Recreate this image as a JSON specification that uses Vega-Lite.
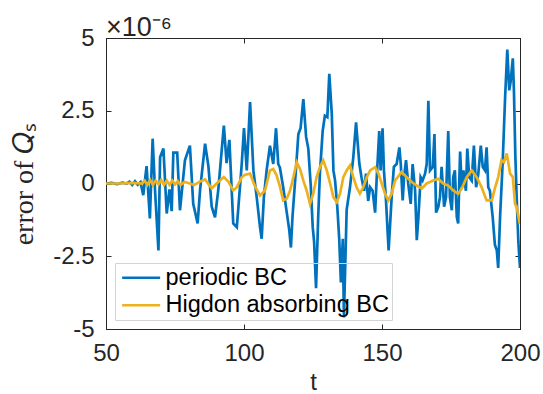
{
  "$schema": "https://vega.github.io/schema/vega-lite/v6.json",
  "width": 414,
  "height": 291,
  "autosize": {"type": "none"},
  "padding": {"left": 106, "top": 38, "right": 23, "bottom": 65},
  "background": "white",
  "title": {"text": "×10⁻⁶", "anchor": "start", "frame": "group", "fontSize": 27, "font": "Liberation Sans", "fontWeight": "normal", "color": "#262626", "offset": 0, "dy": 16, "dx": 0},
  "datasets": {
    "p": [
      {"t": 50, "v": 0}, {"t": 52, "v": 0.02}, {"t": 54, "v": -0.02}, {"t": 56, "v": 0.03}, {"t": 57.5, "v": 0.0}, {"t": 58.5, "v": 0.06}, {"t": 59.5, "v": -0.05}, {"t": 60.5, "v": 0.08}, {"t": 61.5, "v": -0.04}, {"t": 62.5, "v": 0.05},
      {"t": 63.5, "v": -0.4}, {"t": 64.7, "v": 0.6}, {"t": 65.9, "v": -1.2}, {"t": 66.9, "v": 1.54}, {"t": 67.8, "v": -0.3}, {"t": 69.0, "v": -2.3}, {"t": 69.6, "v": 0.9}, {"t": 70.8, "v": 1.2}, {"t": 72.0, "v": -1.03}, {"t": 73.0, "v": -0.2},
      {"t": 73.8, "v": -0.95}, {"t": 74.4, "v": 1.06}, {"t": 75.8, "v": 1.06}, {"t": 76.8, "v": -0.92}, {"t": 78.6, "v": 0.8}, {"t": 80.4, "v": 1.3}, {"t": 81.6, "v": -0.7}, {"t": 83.2, "v": -1.37}, {"t": 84.1, "v": -0.2}, {"t": 85.9, "v": 1.37},
      {"t": 87.1, "v": 0.6}, {"t": 88.3, "v": -0.8}, {"t": 89.5, "v": -1.16}, {"t": 90.7, "v": -0.2}, {"t": 92.7, "v": 1.99}, {"t": 93.7, "v": 0.7}, {"t": 94.7, "v": 1.5}, {"t": 96.1, "v": -1.37}, {"t": 97.4, "v": -1.5}, {"t": 97.9, "v": -0.9},
      {"t": 99.2, "v": 0.7}, {"t": 100.0, "v": 1.9}, {"t": 101.0, "v": 0.45}, {"t": 102.2, "v": 2.8}, {"t": 103.4, "v": 0.45}, {"t": 104.6, "v": -0.47}, {"t": 105.8, "v": -1.5}, {"t": 106.4, "v": -1.9}, {"t": 107.2, "v": -0.47}, {"t": 108.2, "v": 0.45},
      {"t": 109.4, "v": 1.3}, {"t": 110.6, "v": 0.67}, {"t": 111.6, "v": 1.9}, {"t": 112.4, "v": 0.67}, {"t": 113.0, "v": 0.55}, {"t": 114.2, "v": -0.13}, {"t": 115.5, "v": -1.0}, {"t": 116.4, "v": -1.6}, {"t": 117.0, "v": -2.2}, {"t": 117.6, "v": -1.1},
      {"t": 118.8, "v": 0.45}, {"t": 119.7, "v": 1.7}, {"t": 120.5, "v": 1.9}, {"t": 121.5, "v": 2.9}, {"t": 122.5, "v": 1.6}, {"t": 123.3, "v": 1.2}, {"t": 124.2, "v": -0.1}, {"t": 124.9, "v": -1.5}, {"t": 125.4, "v": -2.0}, {"t": 126.1, "v": -3.6},
      {"t": 126.9, "v": -1.1}, {"t": 127.5, "v": 0.34}, {"t": 128.5, "v": 1.8}, {"t": 129.3, "v": 2.33}, {"t": 130.2, "v": 2.28}, {"t": 130.9, "v": 3.77}, {"t": 131.8, "v": 2.4}, {"t": 132.4, "v": 0.45}, {"t": 133.0, "v": 0.1}, {"t": 133.8, "v": -0.8},
      {"t": 134.5, "v": -1.9}, {"t": 135.1, "v": -3.4}, {"t": 135.8, "v": -1.9}, {"t": 136.2, "v": -4.6}, {"t": 137.2, "v": -0.9}, {"t": 138.4, "v": -0.13}, {"t": 139.6, "v": 0.9}, {"t": 140.6, "v": 2.1}, {"t": 141.1, "v": 1.5}, {"t": 141.8, "v": 0.67},
      {"t": 142.6, "v": 0.2}, {"t": 143.5, "v": -0.25}, {"t": 144.2, "v": 0.34}, {"t": 145.0, "v": -0.6}, {"t": 145.7, "v": -0.13}, {"t": 146.6, "v": -0.25}, {"t": 147.5, "v": -1.0}, {"t": 148.1, "v": 0.22}, {"t": 149.0, "v": 1.8}, {"t": 149.5, "v": 0.45},
      {"t": 150.2, "v": 1.9}, {"t": 150.7, "v": 0.45}, {"t": 151.4, "v": -0.5}, {"t": 152.4, "v": -2.3}, {"t": 153.5, "v": -0.47}, {"t": 154.3, "v": 0.57}, {"t": 155.3, "v": 0.67}, {"t": 156.3, "v": 1.24}, {"t": 156.8, "v": 0.67}, {"t": 157.5, "v": -0.58},
      {"t": 158.0, "v": 0.22}, {"t": 158.7, "v": 0.8}, {"t": 159.5, "v": 0.0}, {"t": 160.4, "v": -0.7}, {"t": 161.1, "v": 0.67}, {"t": 162.0, "v": -0.25}, {"t": 162.6, "v": -1.95}, {"t": 163.2, "v": -1.15}, {"t": 164.0, "v": 0.22}, {"t": 164.7, "v": 0.1},
      {"t": 165.6, "v": 0.34}, {"t": 166.2, "v": 0.67}, {"t": 166.8, "v": 2.84}, {"t": 167.4, "v": 0.45}, {"t": 168.4, "v": 0.57}, {"t": 169.0, "v": 1.7}, {"t": 169.6, "v": -1.0}, {"t": 170.4, "v": -0.8}, {"t": 171.0, "v": -0.47}, {"t": 171.6, "v": 0.57},
      {"t": 172.5, "v": -0.8}, {"t": 173.2, "v": -0.47}, {"t": 174.0, "v": 1.8}, {"t": 174.6, "v": -0.47}, {"t": 175.3, "v": -0.92}, {"t": 175.8, "v": 0.22}, {"t": 176.4, "v": 0.45}, {"t": 177.1, "v": -1.15}, {"t": 177.6, "v": -1.37}, {"t": 178.3, "v": 1.1},
      {"t": 178.9, "v": -0.13}, {"t": 179.5, "v": 0.45}, {"t": 180.4, "v": -0.25}, {"t": 180.9, "v": 1.2}, {"t": 181.6, "v": 0.22}, {"t": 182.5, "v": 0.1}, {"t": 183.3, "v": 1.3}, {"t": 184.1, "v": -0.13}, {"t": 184.9, "v": 0.34}, {"t": 185.8, "v": 1.3},
      {"t": 186.5, "v": 0.57}, {"t": 187.3, "v": 0.45}, {"t": 187.9, "v": 1.24}, {"t": 188.5, "v": -0.13}, {"t": 189.1, "v": -0.25}, {"t": 190.1, "v": -1.15}, {"t": 190.9, "v": -2.1}, {"t": 191.6, "v": -2.3}, {"t": 192.1, "v": -2.9}, {"t": 192.8, "v": -1.1},
      {"t": 193.7, "v": 0.67}, {"t": 194.6, "v": 2.95}, {"t": 195.4, "v": 4.6}, {"t": 196.1, "v": 3.2}, {"t": 196.6, "v": 3.5}, {"t": 197.4, "v": 4.3}, {"t": 197.8, "v": 3.2}, {"t": 198.3, "v": 1.0}, {"t": 198.8, "v": -0.5}, {"t": 199.4, "v": -2.0},
      {"t": 200, "v": -2.9}
    ],
    "h": [
      {"t": 50, "v": 0}, {"t": 55, "v": 0}, {"t": 60, "v": 0.02}, {"t": 63, "v": 0}, {"t": 64, "v": 0.1}, {"t": 65, "v": -0.05}, {"t": 66, "v": 0.12}, {"t": 67, "v": -0.05}, {"t": 68, "v": 0.1}, {"t": 69, "v": -0.03},
      {"t": 70, "v": 0.12}, {"t": 71, "v": -0.05}, {"t": 72, "v": 0.1}, {"t": 73, "v": -0.05}, {"t": 74, "v": 0.1}, {"t": 75, "v": -0.03}, {"t": 76, "v": 0.08}, {"t": 77, "v": -0.05}, {"t": 78.5, "v": 0.05}, {"t": 80.4, "v": 0},
      {"t": 82, "v": -0.05}, {"t": 84.1, "v": 0.07}, {"t": 85.9, "v": 0.14}, {"t": 88.3, "v": -0.17}, {"t": 90.1, "v": 0}, {"t": 92.7, "v": 0.22}, {"t": 94.3, "v": 0.07}, {"t": 96.1, "v": -0.24}, {"t": 97.4, "v": -0.13}, {"t": 99.2, "v": 0.22},
      {"t": 100.4, "v": 0.3}, {"t": 102.2, "v": 0.34}, {"t": 104.0, "v": -0.1}, {"t": 105.8, "v": -0.41}, {"t": 107.6, "v": -0.24}, {"t": 109.4, "v": 0.45}, {"t": 110.6, "v": 0.5}, {"t": 111.8, "v": 0.28}, {"t": 113.0, "v": -0.1}, {"t": 114.2, "v": -0.58},
      {"t": 115.5, "v": -0.52}, {"t": 116.7, "v": -0.24}, {"t": 117.9, "v": 0.22}, {"t": 119.1, "v": 0.73}, {"t": 120.3, "v": 0.5}, {"t": 121.5, "v": 0.1}, {"t": 122.7, "v": -0.24}, {"t": 123.9, "v": -0.7}, {"t": 125.1, "v": -0.35}, {"t": 126.3, "v": 0.22},
      {"t": 127.5, "v": 0.56}, {"t": 128.7, "v": 0.79}, {"t": 130.0, "v": 0.45}, {"t": 131.2, "v": 0}, {"t": 132.4, "v": -0.47}, {"t": 133.6, "v": -0.64}, {"t": 134.8, "v": -0.35}, {"t": 136.0, "v": 0.22}, {"t": 137.2, "v": 0.45}, {"t": 138.4, "v": 0.62},
      {"t": 139.6, "v": 0.22}, {"t": 140.8, "v": -0.13}, {"t": 142.0, "v": -0.35}, {"t": 143.2, "v": -0.13}, {"t": 144.5, "v": 0.22}, {"t": 145.7, "v": 0.45}, {"t": 147.5, "v": 0.56}, {"t": 148.7, "v": 0.34}, {"t": 149.9, "v": 0}, {"t": 151.1, "v": -0.35},
      {"t": 152.3, "v": -0.58}, {"t": 153.5, "v": -0.35}, {"t": 154.7, "v": 0.1}, {"t": 157.1, "v": 0.39}, {"t": 158.9, "v": 0.22}, {"t": 160.8, "v": 0.05}, {"t": 162.6, "v": -0.07}, {"t": 164.4, "v": -0.17}, {"t": 166.2, "v": 0}, {"t": 168.6, "v": 0.1},
      {"t": 170.4, "v": 0.16}, {"t": 172.2, "v": 0}, {"t": 174.0, "v": -0.07}, {"t": 175.8, "v": -0.24}, {"t": 177.6, "v": -0.35}, {"t": 178.9, "v": -0.17}, {"t": 180.7, "v": 0.22}, {"t": 182.5, "v": 0.45}, {"t": 184.3, "v": 0.22}, {"t": 186.1, "v": -0.13},
      {"t": 187.9, "v": -0.58}, {"t": 189.8, "v": -0.58}, {"t": 191.0, "v": -0.13}, {"t": 192.1, "v": 0.22}, {"t": 193.3, "v": 0.8}, {"t": 194.2, "v": 0.73}, {"t": 195.2, "v": 1.03}, {"t": 195.8, "v": 0.7}, {"t": 196.4, "v": 0.34}, {"t": 197.4, "v": 0.22},
      {"t": 198.2, "v": -0.7}, {"t": 198.8, "v": -0.8}, {"t": 199.8, "v": -1.33}, {"t": 200, "v": -1.4}
    ]
  },
  "layer": [
    {
      "data": {"name": "p"},
      "transform": [{"calculate": "'periodic BC'", "as": "s"}],
      "mark": {"type": "line", "strokeWidth": 2.7, "clip": true},
      "encoding": {
        "x": {"field": "t", "type": "quantitative", "scale": {"domain": [50, 200], "nice": false, "zero": false},
              "axis": {"orient": "bottom", "values": [50, 100, 150, 200], "title": "t", "labelFlush": false}},
        "y": {"field": "v", "type": "quantitative", "scale": {"domain": [-5, 5], "nice": false, "zero": false},
              "axis": {"orient": "left", "values": [-5, -2.5, 0, 2.5, 5], "title": "error of 𝑄ₛ", "labelExpr": "'' + datum.value",
                       "titleFont": "Liberation Serif", "titleFontSize": 28, "titlePadding": 14}},
        "color": {"field": "s", "type": "nominal",
                  "scale": {"domain": ["periodic BC", "Higdon absorbing BC"], "range": ["#0072BD", "#EDB120"]},
                  "legend": {"title": null, "orient": "none", "legendX": 9, "legendY": 225, "symbolType": "M-0.8,0H3.2", "symbolSize": 361, "symbolStrokeWidth": 2.7, "labelFontSize": 23.5, "labelFont": "Liberation Sans", "labelColor": "#000000", "labelLimit": 400, "labelOffset": 24, "padding": 3, "rowPadding": 2.5, "fillColor": "transparent", "strokeColor": "#d4d4d4"}}
      }
    },
    {
      "data": {"name": "h"},
      "transform": [{"calculate": "'Higdon absorbing BC'", "as": "s"}],
      "mark": {"type": "line", "strokeWidth": 2.7, "clip": true},
      "encoding": {
        "x": {"field": "t", "type": "quantitative", "scale": {"domain": [50, 200], "nice": false, "zero": false},
              "axis": {"orient": "top", "values": [50, 100, 150, 200], "title": null, "labels": false}},
        "y": {"field": "v", "type": "quantitative", "scale": {"domain": [-5, 5], "nice": false, "zero": false},
              "axis": {"orient": "right", "values": [-5, -2.5, 0, 2.5, 5], "title": null, "labels": false}},
        "color": {"field": "s", "type": "nominal",
                  "scale": {"domain": ["periodic BC", "Higdon absorbing BC"], "range": ["#0072BD", "#EDB120"]}}
      }
    }
  ],
  "resolve": {"axis": {"x": "independent", "y": "independent"}},
  "config": {
    "font": "Liberation Sans",
    "view": {"stroke": "#262626", "strokeWidth": 1},
    "axis": {
      "grid": false,
      "domainColor": "#262626",
      "tickColor": "#262626",
      "tickSize": -5,
      "labelFont": "Liberation Sans",
      "labelFontSize": 24,
      "labelColor": "#262626",
      "labelPadding": 17,
      "titleFont": "Liberation Sans",
      "titleFontSize": 24,
      "titleFontWeight": "normal",
      "titleColor": "#262626"
    },
    "axisX": {"titlePadding": 5}
  }
}
